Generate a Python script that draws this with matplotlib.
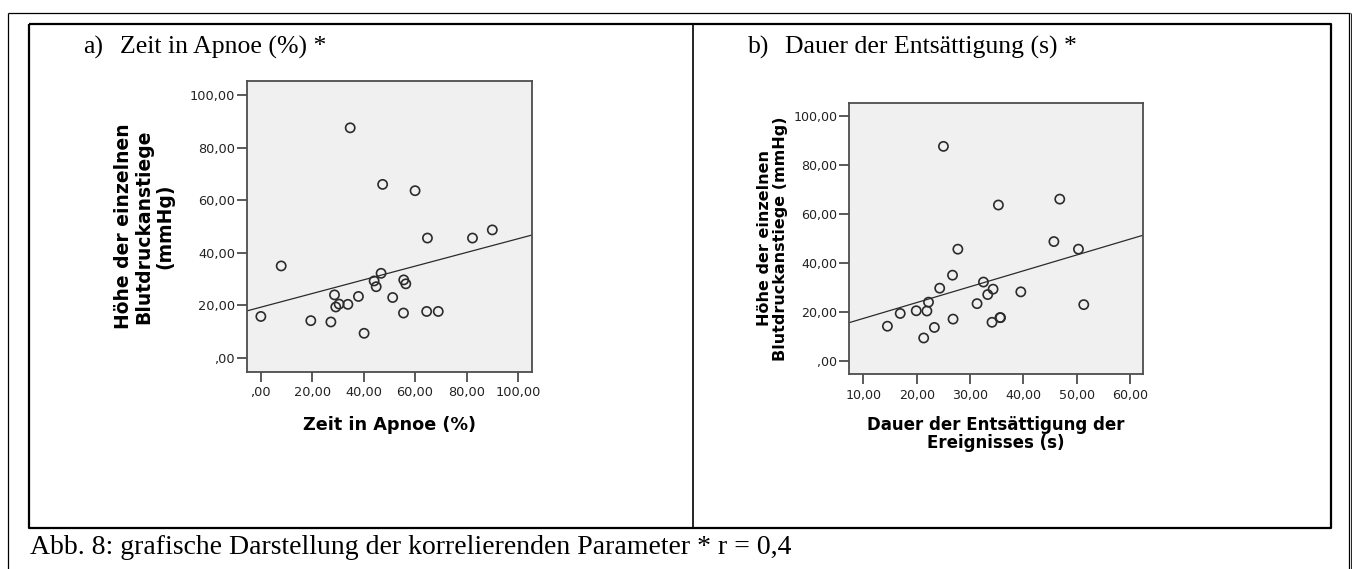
import numpy as np
import matplotlib
matplotlib.use("Agg")
import matplotlib.pyplot as plt
from matplotlib.ticker import FuncFormatter
from matplotlib.lines import Line2D

# Height of the individual blood-pressure rises (mmHg), one value per event
bp_rise = [87.5, 66.0, 63.6, 48.7, 45.6, 45.6, 35.0, 32.2, 29.7, 29.3,
           28.2, 27.1, 24.0, 23.4, 23.0, 20.5, 20.4, 19.4, 17.7, 17.7,
           17.1, 15.8, 14.2, 13.7, 9.4]

# a) time spent in apnoea (%)
apnoea_time = [34.8, 47.4, 60.0, 90.0, 82.3, 64.8, 8.0, 46.8, 55.6, 44.1,
               56.4, 44.9, 28.7, 38.0, 51.3, 30.5, 33.9, 29.2, 64.5, 69.0,
               55.5, 0.1, 19.5, 27.3, 40.2]

# b) duration of the desaturation of the event (s)
desat_duration = [25.0, 46.8, 35.3, 45.7, 50.3, 27.7, 26.7, 32.5, 24.3, 34.3,
                  39.5, 33.3, 22.2, 31.3, 51.3, 19.9, 21.9, 16.9, 35.6, 35.7,
                  26.8, 34.1, 14.5, 23.3, 21.3]

y_ticks = [0, 20, 40, 60, 80, 100]
x_ticks_a = [0, 20, 40, 60, 80, 100]
x_ticks_b = [10, 20, 30, 40, 50, 60]

title_a = ("a)", "Zeit in Apnoe (%) *")
title_b = ("b)", "Dauer der Entsättigung (s) *")
xlabel_a = "Zeit in Apnoe (%)"
xlabel_b = "Dauer der Entsättigung der\nEreignisses (s)"
ylabel_a = "Höhe der einzelnen\nBlutdruckanstiege\n(mmHg)"
ylabel_b = "Höhe der einzelnen\nBlutdruckanstiege (mmHg)"
caption = "Abb. 8: grafische Darstellung der korrelierenden Parameter * r = 0,4"

W, H = 1355, 569
fig = plt.figure(figsize=(W / 100, H / 100), dpi=100)
fig.patch.set_facecolor("white")

SANS = ["DejaVu Sans"]
SERIF = ["Liberation Serif", "DejaVu Serif"]
AX_COL = "#4d4d4d"


def px(x, y):
    """pixel position (from top-left) -> figure fraction"""
    return x / W, 1 - y / H


def fig_line(xs, ys, lw=1.6, color="black"):
    fx = [x / W for x in xs]
    fy = [1 - y / H for y in ys]
    fig.add_artist(Line2D(fx, fy, transform=fig.transFigure, lw=lw,
                          color=color, solid_capstyle="butt"))


# page border and the two-cell table frame
fig_line([8, 1350], [13, 13], lw=0.9)
fig_line([8, 8], [13, 569], lw=0.9)
fig_line([1349, 1349], [13, 569], lw=0.9)
fig_line([1351, 1351], [13, 569], lw=0.6)
fig_line([29, 1331, 1331, 29, 29], [24, 24, 528, 528, 24], lw=1.6)
fig_line([693, 693], [24, 528], lw=1.2)


def comma_fmt(v, _pos):
    s = f"{v:.2f}".replace(".", ",")
    return s[1:] if s.startswith("0,") else s


def scatter_panel(rect, xs, ys, xticks, xlim, ylim, xlabel, ylabel,
                  tick_fs, xlabel_fs, ylabel_fs, ylabel_pad, xlabel_pad,
                  ylabel_ls):
    ax = fig.add_axes(rect)
    ax.set_facecolor("#f0f0f0")
    for sp in ax.spines.values():
        sp.set_color(AX_COL)
        sp.set_linewidth(1.3)
    ax.scatter(xs, ys, s=44, facecolors="none", edgecolors="#2b2b2b",
               linewidths=1.2, zorder=3)
    slope, icpt = np.polyfit(xs, ys, 1)
    lx = np.array(xlim)
    ax.plot(lx, icpt + slope * lx, color="#2b2b2b", lw=0.9, zorder=2)
    ax.set_xlim(*xlim)
    ax.set_ylim(*ylim)
    ax.set_xticks(xticks)
    ax.set_yticks(y_ticks)
    ax.xaxis.set_major_formatter(FuncFormatter(comma_fmt))
    ax.yaxis.set_major_formatter(FuncFormatter(comma_fmt))
    ax.tick_params(direction="out", length=7, width=1.3, color=AX_COL,
                   labelsize=tick_fs, labelcolor="#222222")
    ax.tick_params(axis="x", pad=3.5)
    ax.tick_params(axis="y", pad=1.5)
    for lab in ax.get_xticklabels() + ax.get_yticklabels():
        lab.set_family(SANS)
    ax.set_xlabel(xlabel, family=SANS, fontweight="bold", fontsize=xlabel_fs,
                  labelpad=xlabel_pad, linespacing=1.05)
    ax.set_ylabel(ylabel, family=SANS, fontweight="bold", fontsize=ylabel_fs,
                  labelpad=ylabel_pad, linespacing=ylabel_ls)
    return ax


# a) apnoea time
l, b = px(246.7, 371.7)
_, t = px(0, 81)
scatter_panel([l, b, (531.7 - 246.7) / W, t - b], apnoea_time, bp_rise,
              x_ticks_a, (-5.4, 105.3), (-5.2, 105.3), xlabel_a, ylabel_a,
              tick_fs=9.3, xlabel_fs=12.7, ylabel_fs=13.5, ylabel_pad=11,
              xlabel_pad=12, ylabel_ls=1.12)

# b) desaturation duration
l, b = px(849, 374.3)
_, t = px(0, 102.7)
scatter_panel([l, b, (1143 - 849) / W, t - b], desat_duration, bp_rise,
              x_ticks_b, (7.3, 62.4), (-5.4, 105.3), xlabel_b, ylabel_b,
              tick_fs=9.1, xlabel_fs=12, ylabel_fs=11.5, ylabel_pad=4,
              xlabel_pad=10, ylabel_ls=1.05)

# cell headings
for (num, text), x0 in ((title_a, 83), (title_b, 748)):
    fx, fy = px(x0, 47)
    fig.text(fx, fy, num, family=SERIF, fontsize=18.5, va="center", ha="left")
    fx, _ = px(x0 + 37, 47)
    fig.text(fx, fy, text, family=SERIF, fontsize=18.5, va="center", ha="left")

fx, fy = px(30, 548)
fig.text(fx, fy, caption, family=SERIF, fontsize=20, va="center", ha="left")

fig.savefig("out.png", dpi=100, facecolor="white")
